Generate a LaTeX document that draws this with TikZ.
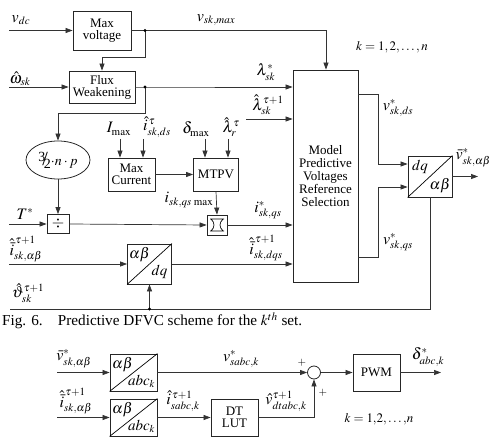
\documentclass[tikz,border=0pt]{standalone}
\usepackage{mathptmx}
\usepackage{fontspec}
\setmainfont{Liberation Serif}
\DeclareMathSizes{16}{16}{11}{8}
\DeclareMathSizes{15}{15}{10.5}{8}
\DeclareMathSizes{14}{14}{10}{7}
\DeclareMathSizes{13}{13}{9}{7}
\usetikzlibrary{arrows.meta,shapes.geometric,calc}
\tikzset{
  blk/.style={draw=black!85, line width=0.8pt, inner sep=0pt, align=center, font=\fontsize{13}{15}\selectfont},
  ln/.style={draw=black!80, line width=0.7pt},
  arr/.style={ln, -{Triangle[length=7pt,width=5pt]}},
  lbl/.style={inner sep=0pt, font=\fontsize{16}{18}\selectfont},
  slbl/.style={inner sep=0pt, font=\fontsize{15}{17}\selectfont},
  klbl/.style={inner sep=0pt, font=\fontsize{13}{15}\selectfont},
  dotc/.style={circle, fill=black, inner sep=0pt, minimum size=3.4pt},
}
\begin{document}
\begin{tikzpicture}[x=1pt,y=-1pt]
\useasboundingbox (0,0) rectangle (492,438);
% ---- blocks
\node[blk, minimum width=58pt, minimum height=39pt] (mv) at (102,30.5) {Max\\[-3pt]voltage};
\node[blk, minimum width=66pt, minimum height=32pt] (fw) at (102,87) {Flux\\[-3pt]Weakening};
\node[blk, ellipse, minimum width=64pt, minimum height=38pt, inner sep=0pt, font=\fontsize{14}{16}\selectfont] (el) at (58,160)
  {\raisebox{4pt}{3}\hspace{-3pt}{\fontsize{20}{20}\selectfont/}\hspace{-4pt}\raisebox{-3pt}{2}$\cdot n\cdot p$};
\node[blk, minimum width=22pt, minimum height=19pt, font=\fontsize{16}{18}\selectfont] (dv) at (58,224) {$\div$};
\node[blk, minimum width=47pt, minimum height=33pt] (mc) at (131.5,174.5) {Max\\[-3pt]Current};
\node[blk, minimum width=45pt, minimum height=33pt] (mt) at (216,174.5) {MTPV};
\node[blk, minimum width=20pt, minimum height=20pt] (sat) at (217,225) {};
\draw[line width=0.7pt] ($(sat.center)+(-7,-6)$) -- ++(14,0)
  ($(sat.center)+(-7,6)$) -- ++(14,0)
  ($(sat.center)+(-6,-6)$) .. controls ($(sat.center)+(-2,-2)$) and ($(sat.center)+(-2,2)$) .. ($(sat.center)+(-6,6)$)
  ($(sat.center)+(6,-6)$) .. controls ($(sat.center)+(2,-2)$) and ($(sat.center)+(2,2)$) .. ($(sat.center)+(6,6)$);
\node[blk, minimum width=65pt, minimum height=212pt] (mp) at (325.5,176)
  {Model\\[-2pt]Predictive\\[-2pt]Voltages\\[-2pt]Reference\\[-2pt]Selection};
\node[blk, minimum width=44pt, minimum height=40pt] (ad) at (149.5,264) {};
\draw[line width=0.7pt] (ad.south west) -- (ad.north east);
\node[slbl] at ($(ad.center)+(-10,-9)$) {$\alpha\beta$};
\node[slbl] at ($(ad.center)+(10,8)$) {$dq$};
\node[blk, minimum width=44pt, minimum height=41pt] (da) at (430,176.5) {};
\draw[line width=0.7pt] (da.south west) -- (da.north east);
\node[slbl] at ($(da.center)+(-10,-10)$) {$dq$};
\node[slbl] at ($(da.center)+(10,9)$) {$\alpha\beta$};
% ---- top connectors
\coordinate (vdc) at (9,30.5);
\coordinate (d1) at (145,30.5);
\coordinate (c1) at (326,30.5);
\coordinate (c2) at (145,57);
\coordinate (c3) at (102,57);
\coordinate (win) at (9,87);
\coordinate (d2) at (145,87);
\coordinate (c4) at (145,113);
\coordinate (c5) at (58,113);
\coordinate (tin) at (9,224);
\coordinate (lin) at (246,119);
\coordinate (iin) at (9,264);
\coordinate (th0) at (10,309);
\coordinate (d3) at (149.5,309);
\coordinate (th1) at (430,309);
\coordinate (o1) at (358,94);
\coordinate (o1b) at (378,94);
\coordinate (o1c) at (378,164);
\coordinate (o2) at (358,257);
\coordinate (o2b) at (378,257);
\coordinate (o2c) at (378,187);
\coordinate (vout) at (478,176.5);
\draw[arr] (vdc) -- (mv.west);
\draw[ln] (mv.east) -- (d1) -- (c1);
\draw[arr] (c1) -- (c1 |- mp.north);
\draw[arr] (d1) -- (c2) -- (c3) -- (fw.north);
\draw[arr] (win) -- (fw.west);
\draw[arr] (fw.east) -- (d2) -- (d2 -| mp.west);
\draw[arr] (d2) -- (c4) -- (c5) -- (el.north);
\draw[arr] (el.south) -- (dv.north);
\draw[arr] (tin) -- (dv.west);
\draw[arr] (dv.east) -- (sat.west);
\draw[arr] (sat.east) -- (sat.east -| mp.west);
\draw[arr] (mt.south) -- (sat.north);
\draw[arr] (mc.east) -- (mt.west);
\foreach \x/\n in {120/a,143/b} { \coordinate (mcin\n) at (\x,139); \draw[arr] (mcin\n) -- (mcin\n |- mc.north); }
\foreach \x/\n in {205/a,228/b} { \coordinate (mtin\n) at (\x,139); \draw[arr] (mtin\n) -- (mtin\n |- mt.north); }
\draw[arr] (lin) -- (lin -| mp.west);
\draw[arr] (iin) -- (ad.west);
\draw[arr] (ad.east) -- (ad.east -| mp.west);
\draw[ln] (th0) -- (th1) -- (da.south);
\draw[arr] (d3) -- (ad.south);
\draw[arr] (o1) -- (o1b) -- (o1c) -- (o1c -| da.west);
\draw[arr] (o2) -- (o2b) -- (o2c) -- (o2c -| da.west);
\draw[arr] (da.east) -- (vout);
\node[dotc] at (d1) {};
\node[dotc] at (d2) {};
\node[dotc] at (d3) {};
% ---- top labels
\node[lbl] (l1) at (21,20) {$v_{dc}$};
\node[lbl] (l2) at (216,20) {$v_{sk,max}$};
\node[lbl] (l3) at (20,79) {$\hat{\omega}_{sk}$};
\node[lbl] (l4) at (266,72) {$\lambda^{*}_{sk}$};
\node[lbl] (l5) at (268,105) {$\hat{\lambda}^{\tau+1}_{sk}$};
\node[klbl] (l6) at (392,47) {$k=1,2,\ldots,n$};
\node[lbl] (l7) at (119,129) {$I_{\max}$};
\node[lbl] (l8) at (157,127) {$\hat{i}^{\,\tau}_{sk,ds}$};
\node[lbl] (l9) at (196,129) {$\delta_{\max}$};
\node[lbl] (l10) at (231,127) {$\hat{\lambda}^{\tau}_{r}$};
\node[lbl] (l11) at (189,200) {$i_{sk,qs\,\max}$};
\node[lbl] (l12) at (25,214) {$T^{*}$};
\node[lbl] (l13) at (268,210) {$i^{*}_{sk,qs}$};
\node[lbl] (l14) at (26,249) {$\hat{\bar{i}}^{\,\tau+1}_{sk,\alpha\beta}$};
\node[lbl] (l15) at (266,248) {$\hat{\bar{i}}^{\,\tau+1}_{sk,dqs}$};
\node[lbl] (l16) at (28,293) {$\hat{\vartheta}^{\tau+1}_{sk}$};
\node[lbl] (l17) at (398,108) {$v^{*}_{sk,ds}$};
\node[lbl] (l18) at (398,242) {$v^{*}_{sk,qs}$};
\node[lbl, anchor=east] (l19) at (491,158) {$\bar{v}^{*}_{sk,\alpha\beta}$};
% ---- caption
\node[inner sep=0pt, anchor=west, font=\fontsize{15.2}{17}\selectfont] (cap) at (2,321)
  {Fig. 6.\hspace{1em}Predictive DFVC scheme for the $k^{th}$ set.};
% ---- bottom diagram
\node[blk, minimum width=47pt, minimum height=37pt] (b1) at (133.5,372.5) {};
\draw[line width=0.7pt] (b1.south west) -- (b1.north east);
\node[slbl] at ($(b1.center)+(-11,-8)$) {$\alpha\beta$};
\node[slbl] at ($(b1.center)+(8,9)$) {$abc_k$};
\node[blk, minimum width=47pt, minimum height=37pt] (b2) at (133.5,417.5) {};
\draw[line width=0.7pt] (b2.south west) -- (b2.north east);
\node[slbl] at ($(b2.center)+(-11,-8)$) {$\alpha\beta$};
\node[slbl] at ($(b2.center)+(8,9)$) {$abc_k$};
\node[blk, minimum width=47pt, minimum height=37pt] (dt) at (234.5,417.5) {DT\\[-3pt]LUT};
\node[draw=black!85, line width=0.8pt, circle, minimum size=13pt, inner sep=0pt] (sum) at (314,372.5) {};
\node[blk, minimum width=47pt, minimum height=37pt] (pwm) at (376.5,372.5) {PWM};
\coordinate (bi1) at (57,372.5);
\coordinate (bi2) at (57,417.5);
\coordinate (dc) at (314,417.5);
\coordinate (bout) at (441,372.5);
\draw[arr] (bi1) -- (b1.west);
\draw[arr] (bi2) -- (b2.west);
\draw[arr] (b1.east) -- (sum.west);
\draw[arr] (b2.east) -- (dt.west);
\draw[arr] (dt.east) -- (dc) -- (sum.south);
\draw[arr] (sum.east) -- (pwm.west);
\draw[arr] (pwm.east) -- (bout);
\node[lbl] (m1) at (74,359) {$\bar{v}^{*}_{sk,\alpha\beta}$};
\node[lbl] (m2) at (76,401) {$\hat{\bar{i}}^{\,\tau+1}_{sk,\alpha\beta}$};
\node[lbl] (m3) at (241,359) {$v^{*}_{sabc,k}$};
\node[inner sep=0pt, font=\fontsize{11}{12}\selectfont] (m4) at (302,363) {$+$};
\node[lbl] (m5) at (183,401) {$\hat{i}^{\,\tau+1}_{sabc,k}$};
\node[lbl] (m6) at (286,401) {$\hat{v}^{\tau+1}_{dtabc,k}$};
\node[inner sep=0pt, font=\fontsize{11}{12}\selectfont] (m7) at (323,393) {$+$};
\node[lbl] (m8) at (428,357) {$\delta^{*}_{abc,k}$};
\node[klbl] (m9) at (379,419) {$k = 1{,}2{,}\ldots{,}n$};
\end{tikzpicture}
\end{document}
